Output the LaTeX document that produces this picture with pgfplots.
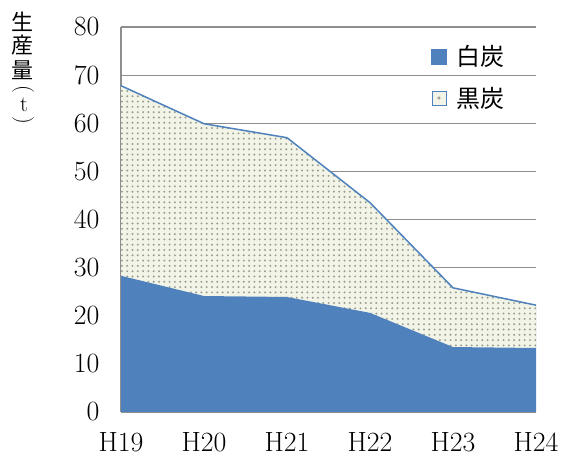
\documentclass[border=0pt]{standalone}
\usepackage{pgfplots}
\pgfplotsset{compat=1.18}
\usepgfplotslibrary{fillbetween}
\usetikzlibrary{patterns}
\usepackage{fontspec}
\newfontfamily\cjk{Noto Sans CJK JP}

\definecolor{wblue}{HTML}{4F81BD}
\definecolor{gridgray}{HTML}{8E8E8E}
\definecolor{patbg}{HTML}{F1F4E6}
\definecolor{patdot}{HTML}{9A9E90}

% dotted fill for the black charcoal area
\pgfdeclarepatternformonly{sumi}{\pgfpoint{-1.5pt}{-1.5pt}}{\pgfpoint{1.5pt}{1.5pt}}{\pgfpoint{5.3pt}{5.3pt}}{%
  \pgfpathcircle{\pgfpointorigin}{1.1pt}\pgfusepath{fill}}

% Latin Modern stops growing near 24.88pt, so scale the labels up
\newcommand\bigtick[1]{\scalebox{1.16}{#1}}

\begin{document}
\begin{tikzpicture}
\begin{axis}[
    scale only axis,
    width=415pt, height=385pt,
    xmin=0, xmax=5, ymin=0, ymax=80,
    xtick={0,...,5},
    xticklabels={\bigtick{H19},\bigtick{H20},\bigtick{H21},\bigtick{H22},\bigtick{H23},\bigtick{H24}},
    ytick={0,10,...,80},
    yticklabel={\bigtick{\pgfmathprintnumber{\tick}}},
    /pgf/number format/assume math mode=true,
    ymajorgrids=true,
    grid style={gridgray, line width=1.2pt},
    axis x line*=bottom, axis y line*=left,
    axis line style={gridgray, line width=1.2pt, -},
    major tick length=0pt,
    xticklabel style={font=\fontsize{24}{29}\selectfont, yshift=-17pt},
    yticklabel style={font=\fontsize{24}{29}\selectfont, xshift=-18pt},
    legend style={draw=none, fill=none, at={(rel axis cs:0.74,0.963)},
        anchor=north west, font=\cjk\fontsize{24}{28}\selectfont,
        row sep=16pt,
        /tikz/every odd column/.append style={column sep=8pt}},
    legend cell align=left,
]
% 白炭
\addplot[draw=none, fill=wblue, forget plot]
    coordinates {(0,28.3) (1,24.1) (2,23.9) (3,20.6) (4,13.5) (5,13.3)} \closedcycle;
\addplot[name path=wh, draw=none, forget plot]
    coordinates {(0,28.3) (1,24.1) (2,23.9) (3,20.6) (4,13.5) (5,13.3)};
% 合計 (白炭+黒炭)
\addplot[name path=tot, draw=none, forget plot]
    coordinates {(0,67.8) (1,59.9) (2,57.0) (3,43.5) (4,25.8) (5,22.2)};
\addplot[fill=patbg, draw=none, forget plot] fill between[of=tot and wh];
\addplot[pattern=sumi, pattern color=patdot, draw=none, forget plot] fill between[of=tot and wh];
\addplot[wblue, line width=1.5pt, forget plot]
    coordinates {(0,67.8) (1,59.9) (2,57.0) (3,43.5) (4,25.8) (5,22.2)};
\addplot[wblue!70, line width=0.8pt, forget plot]
    coordinates {(5,22.2) (5,13.3)};

\addlegendimage{legend image code/.code={\fill[wblue] (0pt,-7.5pt) rectangle (15pt,7.5pt);}}
\addlegendentry{白炭}
\addlegendimage{legend image code/.code={\draw[wblue, fill=patbg, line width=0.8pt] (0.5pt,-7pt) rectangle (14.5pt,7pt); \fill[patdot] (7.5pt,0pt) circle (1.3pt);}}
\addlegendentry{黒炭}
\end{axis}
% 縦書きの軸ラベル 生産量(t)
\begin{scope}[every node/.style={inner sep=0pt, font=\fontsize{22}{22}\selectfont}]
\node at (-98pt,390pt) {\cjk 生};
\node at (-98pt,367pt) {\cjk 産};
\node at (-98pt,342pt) {\cjk 量};
\node at (-98pt,323pt) {\rotatebox{-90}{(}};
\node at (-97pt,307pt) {t};
\node at (-98pt,292pt) {\rotatebox{-90}{)}};
\end{scope}
\pgfresetboundingbox
\path[use as bounding box] (-121pt,-50pt) rectangle (443pt,412pt);
\end{tikzpicture}
\end{document}
